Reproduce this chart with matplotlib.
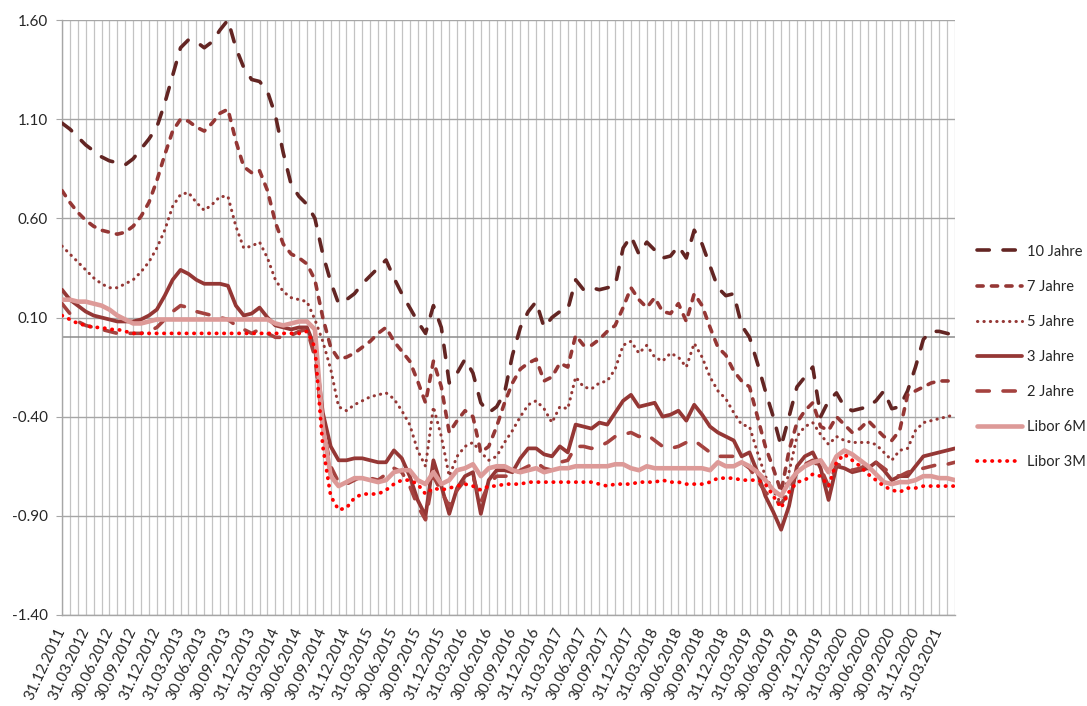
import matplotlib
matplotlib.use("Agg")
import matplotlib.pyplot as plt
from matplotlib.ticker import FixedLocator, MultipleLocator

plt.rcParams['font.family'] = ['Lato', 'DejaVu Sans']

# ---------------- data (monthly, 31.12.2011 .. 31.05.2021) ----------------
tick_labels = [
    "31.12.2011", "31.03.2012", "30.06.2012", "30.09.2012", "31.12.2012",
    "31.03.2013", "30.06.2013", "30.09.2013", "31.12.2013", "31.03.2014",
    "30.06.2014", "30.09.2014", "31.12.2014", "31.03.2015", "30.06.2015",
    "30.09.2015", "31.12.2015", "31.03.2016", "30.06.2016", "30.09.2016",
    "31.12.2016", "31.03.2017", "30.06.2017", "30.09.2017", "31.12.2017",
    "31.03.2018", "30.06.2018", "30.09.2018", "31.12.2018", "31.03.2019",
    "30.06.2019", "30.09.2019", "31.12.2019", "31.03.2020", "30.06.2020",
    "30.09.2020", "31.12.2020", "31.03.2021",
]

y10 = [1.08, 1.05, 1.01, 0.97, 0.94, 0.91, 0.89, 0.88, 0.87, 0.90,
       0.95, 1.00, 1.06, 1.18, 1.32, 1.46, 1.50, 1.49, 1.46, 1.49,
       1.55, 1.60, 1.46, 1.36, 1.30, 1.29, 1.24, 1.12, 0.93, 0.77,
       0.71, 0.67, 0.60, 0.42, 0.28, 0.17, 0.19, 0.22, 0.27, 0.31,
       0.35, 0.39, 0.30, 0.22, 0.15, 0.08, 0.02, 0.16, 0.05, -0.23,
       -0.18, -0.11, -0.18, -0.33, -0.38, -0.35, -0.28, -0.09, 0.05, 0.13,
       0.18, 0.05, 0.10, 0.13, 0.14, 0.29, 0.24, 0.25, 0.24, 0.25,
       0.26, 0.45, 0.51, 0.42, 0.48, 0.44, 0.40, 0.41, 0.46, 0.40,
       0.54, 0.47, 0.36, 0.25, 0.21, 0.22, 0.06, 0.00, -0.13, -0.27,
       -0.40, -0.55, -0.40, -0.25, -0.20, -0.15, -0.40, -0.32, -0.28, -0.35,
       -0.37, -0.36, -0.35, -0.32, -0.27, -0.36, -0.35, -0.27, -0.15, -0.01,
       0.03, 0.03, 0.02, 0.01]

y7 = [0.74, 0.68, 0.63, 0.59, 0.56, 0.54, 0.53, 0.52, 0.53, 0.56,
      0.61, 0.68, 0.79, 0.92, 1.04, 1.10, 1.09, 1.06, 1.04, 1.08,
      1.13, 1.15, 0.99, 0.86, 0.83, 0.84, 0.74, 0.58, 0.47, 0.42,
      0.40, 0.37, 0.29, 0.10, -0.05, -0.11, -0.10, -0.08, -0.05, -0.02,
      0.02, 0.05, -0.02, -0.07, -0.12, -0.22, -0.33, -0.12, -0.25, -0.48,
      -0.42, -0.37, -0.40, -0.58, -0.55, -0.45, -0.33, -0.23, -0.16, -0.13,
      -0.11, -0.22, -0.20, -0.13, -0.15, 0.01, -0.04, -0.04, -0.01, 0.03,
      0.06, 0.15, 0.25, 0.19, 0.15, 0.20, 0.13, 0.12, 0.17, 0.08,
      0.22, 0.16, 0.05, -0.05, -0.09, -0.17, -0.22, -0.25, -0.40, -0.55,
      -0.66, -0.78, -0.57, -0.43, -0.37, -0.33, -0.45, -0.47, -0.40, -0.44,
      -0.48, -0.46, -0.42, -0.46, -0.50, -0.52, -0.47, -0.29, -0.27, -0.25,
      -0.23, -0.22, -0.22, -0.22]

y5 = [0.46, 0.42, 0.38, 0.34, 0.30, 0.27, 0.25, 0.25, 0.27, 0.29,
      0.33, 0.38, 0.45, 0.54, 0.66, 0.72, 0.73, 0.68, 0.64, 0.67,
      0.71, 0.71, 0.56, 0.45, 0.46, 0.48, 0.40, 0.29, 0.23, 0.20,
      0.19, 0.18, 0.09, -0.02, -0.16, -0.35, -0.37, -0.34, -0.32, -0.30,
      -0.29, -0.28, -0.31, -0.37, -0.44, -0.57, -0.65, -0.35, -0.50, -0.70,
      -0.60, -0.55, -0.53, -0.58, -0.62, -0.60, -0.53, -0.47, -0.40, -0.34,
      -0.32, -0.36, -0.43, -0.35, -0.36, -0.20, -0.25, -0.26, -0.23, -0.22,
      -0.16, -0.04, -0.02, -0.08, -0.04, -0.10, -0.12, -0.08, -0.10, -0.15,
      -0.03, -0.10, -0.20, -0.27, -0.31, -0.38, -0.44, -0.45, -0.58, -0.70,
      -0.77, -0.84, -0.68, -0.50, -0.45, -0.43, -0.49, -0.54, -0.50, -0.52,
      -0.53, -0.53, -0.53, -0.54, -0.58, -0.62, -0.57, -0.56, -0.47, -0.43,
      -0.42, -0.41, -0.40, -0.39]

y3 = [0.24, 0.19, 0.16, 0.13, 0.11, 0.10, 0.09, 0.08, 0.08, 0.08,
      0.09, 0.11, 0.14, 0.21, 0.29, 0.34, 0.32, 0.29, 0.27, 0.27,
      0.27, 0.26, 0.16, 0.11, 0.12, 0.15, 0.10, 0.06, 0.05, 0.04,
      0.05, 0.05, -0.05, -0.38, -0.55, -0.62, -0.62, -0.61, -0.61, -0.62,
      -0.63, -0.63, -0.57, -0.61, -0.70, -0.82, -0.90, -0.62, -0.75, -0.89,
      -0.76, -0.70, -0.68, -0.89, -0.72, -0.67, -0.67, -0.68, -0.61, -0.56,
      -0.56, -0.59, -0.60, -0.55, -0.58, -0.44, -0.45, -0.46, -0.43, -0.44,
      -0.38, -0.32, -0.29, -0.35, -0.34, -0.33, -0.40, -0.39, -0.37, -0.42,
      -0.34, -0.39, -0.45, -0.48, -0.50, -0.52, -0.60, -0.58, -0.68, -0.80,
      -0.88, -0.97, -0.85, -0.65, -0.60, -0.58, -0.66, -0.82, -0.65, -0.66,
      -0.68, -0.67, -0.66, -0.63, -0.67, -0.72, -0.70, -0.70, -0.65, -0.60,
      -0.59, -0.58, -0.57, -0.56]

y2 = [0.17, 0.12, 0.08, 0.06, 0.05, 0.04, 0.03, 0.02, 0.02, 0.02,
      0.02, 0.03, 0.05, 0.09, 0.13, 0.16, 0.15, 0.13, 0.12, 0.11,
      0.10, 0.09, 0.06, 0.04, 0.02, 0.04, 0.02, 0.00, 0.00, 0.01,
      0.03, 0.04, -0.10, -0.45, -0.65, -0.73, -0.74, -0.72, -0.70, -0.71,
      -0.72, -0.69, -0.66, -0.68, -0.75, -0.85, -0.92, -0.70, -0.78, -0.85,
      -0.77, -0.72, -0.70, -0.83, -0.74, -0.70, -0.70, -0.70, -0.67, -0.65,
      -0.63, -0.66, -0.67, -0.63, -0.62, -0.55, -0.55, -0.56, -0.55, -0.53,
      -0.50, -0.49, -0.48, -0.50, -0.49, -0.52, -0.55, -0.56, -0.55, -0.53,
      -0.52, -0.55, -0.58, -0.60, -0.60, -0.60, -0.63, -0.66, -0.72, -0.78,
      -0.82, -0.84, -0.78, -0.68, -0.64, -0.62, -0.66, -0.75, -0.64, -0.65,
      -0.67, -0.66, -0.64, -0.63, -0.66, -0.69, -0.70, -0.68, -0.67, -0.66,
      -0.65, -0.64, -0.64, -0.63]

libor6 = [0.19, 0.19, 0.18, 0.18, 0.17, 0.16, 0.14, 0.11, 0.09, 0.07,
          0.07, 0.08, 0.09, 0.09, 0.09, 0.09, 0.09, 0.09, 0.09, 0.09,
          0.09, 0.09, 0.09, 0.09, 0.09, 0.09, 0.09, 0.07, 0.06, 0.07,
          0.08, 0.08, 0.04, -0.45, -0.70, -0.75, -0.73, -0.71, -0.71, -0.72,
          -0.73, -0.72, -0.68, -0.67, -0.67, -0.72, -0.74, -0.68, -0.74, -0.72,
          -0.67, -0.66, -0.64, -0.70, -0.66, -0.65, -0.65, -0.67, -0.68, -0.67,
          -0.66, -0.68, -0.67, -0.66, -0.66, -0.65, -0.65, -0.65, -0.65, -0.65,
          -0.64, -0.64, -0.66, -0.67, -0.65, -0.66, -0.66, -0.66, -0.66, -0.66,
          -0.66, -0.66, -0.67, -0.63, -0.65, -0.65, -0.63, -0.65, -0.68, -0.72,
          -0.77, -0.80, -0.73, -0.68, -0.65, -0.63, -0.62, -0.68, -0.60, -0.57,
          -0.59, -0.62, -0.65, -0.69, -0.73, -0.74, -0.73, -0.73, -0.72, -0.70,
          -0.70, -0.71, -0.71, -0.72]

libor3 = [0.11, 0.09, 0.07, 0.06, 0.05, 0.05, 0.04, 0.04, 0.03, 0.02,
          0.02, 0.02, 0.02, 0.02, 0.02, 0.02, 0.02, 0.02, 0.02, 0.02,
          0.02, 0.02, 0.02, 0.02, 0.02, 0.02, 0.02, 0.02, 0.02, 0.02,
          0.02, 0.03, -0.05, -0.55, -0.80, -0.87, -0.86, -0.81, -0.79, -0.79,
          -0.79, -0.77, -0.74, -0.72, -0.72, -0.74, -0.79, -0.76, -0.77, -0.76,
          -0.75, -0.74, -0.75, -0.77, -0.75, -0.75, -0.74, -0.74, -0.74, -0.73,
          -0.73, -0.73, -0.73, -0.73, -0.73, -0.73, -0.73, -0.73, -0.74, -0.75,
          -0.74, -0.74, -0.74, -0.73, -0.73, -0.73, -0.72, -0.73, -0.73, -0.74,
          -0.74, -0.74, -0.73, -0.71, -0.71, -0.71, -0.72, -0.72, -0.72, -0.74,
          -0.80, -0.86, -0.78, -0.73, -0.72, -0.69, -0.70, -0.75, -0.63, -0.59,
          -0.62, -0.65, -0.69, -0.72, -0.75, -0.77, -0.78, -0.76, -0.76, -0.75,
          -0.75, -0.75, -0.75, -0.75]

series_names = ["10 Jahre", "7 Jahre", "5 Jahre", "3 Jahre", "2 Jahre",
                "Libor 6M", "Libor 3M"]
series_values = [y10, y7, y5, y3, y2, libor6, libor3]

y_ticks = [-1.40, -0.90, -0.40, 0.10, 0.60, 1.10, 1.60]

# ---------------- styles ----------------
styles = [
    dict(color="#632523", lw=2.6, ls=(0, (3.4, 3.8)), dash_capstyle="round"),
    dict(color="#953735", lw=2.6, ls=(0, (1.7, 2.3)), dash_capstyle="round"),
    dict(color="#953735", lw=2.2, ls=(0, (0.1, 2.0)), dash_capstyle="round"),
    dict(color="#953735", lw=2.7, ls="-", solid_capstyle="round"),
    dict(color="#A5423F", lw=2.6, ls=(0, (3.4, 3.8)), dash_capstyle="round"),
    dict(color="#DD9A98", lw=3.3, ls="-", solid_capstyle="round"),
    dict(color="#FF0000", lw=2.7, ls=(0, (0.1, 1.9)), dash_capstyle="round"),
]

W, H = 1087, 706
fig = plt.figure(figsize=(W / 100, H / 100), dpi=100)
left, right, top, bottom = 62, 955, 20, 615
ax = fig.add_axes([left / W, 1 - bottom / H, (right - left) / W, (bottom - top) / H])

n = len(y10)
for i, (name, vals) in enumerate(zip(series_names, series_values)):
    ax.plot(list(range(len(vals))), vals, label=name, zorder=3 + i, **styles[i])

ax.set_xlim(0, n - 1)
ax.set_ylim(-1.40, 1.60)

ax.set_yticks(y_ticks)
ax.set_yticklabels([f"{v:.2f}" for v in y_ticks])

major_pos = list(range(0, 3 * len(tick_labels), 3))
ax.xaxis.set_major_locator(FixedLocator(major_pos))
ax.set_xticklabels(tick_labels, rotation=65, ha="right", va="center",
                   rotation_mode="anchor")
ax.xaxis.set_minor_locator(MultipleLocator(1))

ax.set_axisbelow(True)
ax.grid(axis="x", which="both", color="#C3C3C3", lw=0.9)
ax.grid(axis="y", which="major", color="#A6A6A6", lw=1.0)
ax.axhline(0, color="#8C8C8C", lw=1.1, zorder=2)

for s in ["top", "right"]:
    ax.spines[s].set_visible(False)
for s in ["left", "bottom"]:
    ax.spines[s].set_color("#A6A6A6")
    ax.spines[s].set_linewidth(1.0)

ax.tick_params(axis="x", which="both", length=0, pad=10, labelsize=11,
               labelcolor="#262626")
ax.tick_params(axis="y", which="major", length=4, color="#A6A6A6", pad=6,
               labelsize=11, labelcolor="#262626")

leg = fig.legend(loc="center left", bbox_to_anchor=(977 / W, 1 - 357 / H),
                 frameon=False, fontsize=10.5, handlelength=3.1,
                 handletextpad=0.3, labelspacing=1.45, borderpad=0,
                 borderaxespad=0)
for t in leg.get_texts():
    t.set_color("#262626")

fig.savefig("out.png", dpi=100)
